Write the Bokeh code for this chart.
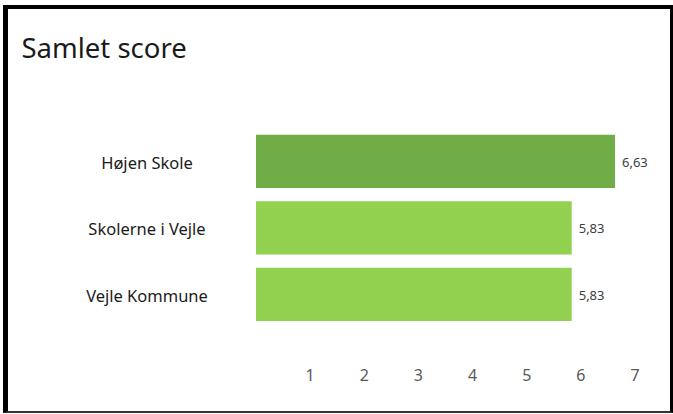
from bokeh.plotting import figure
from bokeh.models import ColumnDataSource, Range1d, FixedTicker
from bokeh.core.properties import value
from bokeh.embed import file_html
from bokeh.resources import INLINE

# ---- data ----
title_text = "Samlet score"
categories = ["Højen Skole", "Skolerne i Vejle", "Vejle Kommune"]
scores = [6.63, 5.83, 5.83]
score_labels = ["6,63", "5,83", "5,83"]
bar_colors = ["#70AD47", "#92D050", "#92D050"]
x_ticks = [1, 2, 3, 4, 5, 6, 7]

rows = list(range(len(categories)))
src = ColumnDataSource(dict(
    row=rows, cat=categories, score=scores, lab=score_labels,
    color=bar_colors, zero=[0] * len(categories),
))

FONT = "Noto Sans"

x_range = Range1d(-4.349, 7.470)
y_range = Range1d(2.920, -2.283)

# host: content-box 662x402 + borders (left 5, right 3, top 4, bottom 2), offset (3,5)
p = figure(
    width=662, height=402,
    x_range=x_range, y_range=y_range,
    output_backend="svg", toolbar_location=None,
    y_axis_location=None,
    min_border_left=12, min_border_right=18,
    min_border_top=0, min_border_bottom=62,
    margin=(5, 0, 0, 3),
    styles={
        "box-sizing": "content-box",
        "border-left": "5px solid #000000",
        "border-right": "3px solid #000000",
        "border-top": "4px solid #000000",
        "border-bottom": "2px solid #333333",
    },
)

p.outline_line_color = None
p.xgrid.visible = False
p.ygrid.visible = False
p.background_fill_color = "white"
p.border_fill_color = "white"

# title, anchored at the top-left corner of the plot area
p.text(x=[x_range.start], y=[y_range.end], text=[title_text],
       x_offset=1, y_offset=38, text_baseline="alphabetic", text_align="left",
       text_font=value(FONT), text_font_size="27.5px", text_color="#1a1a1a")

p.hbar(y="row", left="zero", right="score", height=0.8, color="color",
       line_color=None, source=src)

p.text(x="score", y="row", text="lab", x_offset=7, y_offset=1,
       text_baseline="middle", text_align="left",
       text_font=value(FONT), text_font_size="13px", text_color="#404040",
       source=src)

p.text(x="zero", y="row", text="cat", x_offset=-109, y_offset=1,
       text_baseline="middle", text_align="center",
       text_font=value(FONT), text_font_size="16.5px", text_color="#1a1a1a",
       source=src)

ax = p.xaxis[0]
ax.ticker = FixedTicker(ticks=x_ticks)
ax.axis_line_color = None
ax.major_tick_line_color = None
ax.minor_tick_line_color = None
ax.major_label_standoff = 7
ax.major_label_text_font = FONT
ax.major_label_text_font_size = "16px"
ax.major_label_text_color = "#595959"

open("out.html", "w").write(file_html(p, INLINE))
